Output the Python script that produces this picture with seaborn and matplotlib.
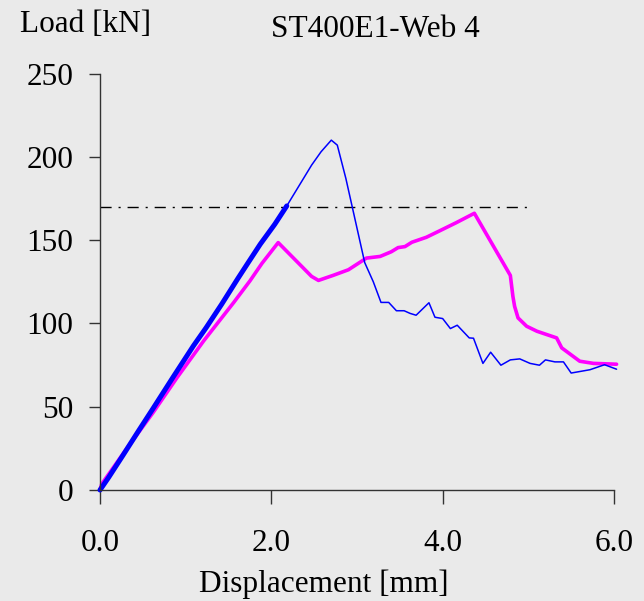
import numpy as np
import pandas as pd
import matplotlib
matplotlib.use("Agg")
import matplotlib.pyplot as plt
import seaborn as sns

# --- dati ---
# tratto iniziale (blu spesso)
blue_init_x = [0.00, 0.10, 0.27, 0.45, 0.62, 0.85, 1.09, 1.24, 1.42, 1.61, 1.73, 1.87, 2.04, 2.18]
blue_init_y = [0.0, 7.5, 21.0, 35.5, 49.0, 67.5, 86.5, 97.5, 111.5, 127.0, 136.5, 147.5, 159.5, 170.5]

# prosecuzione (blu sottile)
blue_x = [2.18, 2.47, 2.58, 2.70, 2.77, 2.87, 3.09, 3.19, 3.28, 3.37, 3.46, 3.55, 3.62, 3.69,
          3.84, 3.91, 4.00, 4.09, 4.17, 4.31, 4.36, 4.47, 4.56, 4.68, 4.79, 4.90, 5.02,
          5.13, 5.20, 5.31, 5.41, 5.50, 5.72, 5.89, 6.03]
blue_y = [170.5, 195.0, 203.0, 210.0, 207.0, 187.0, 136.5, 125.0, 112.6, 112.6, 107.6, 107.6,
          106.0, 104.9, 112.4, 103.7, 102.9, 96.9, 98.9, 91.3, 91.1, 76.0, 82.7, 74.9, 78.1,
          78.7, 76.0, 74.9, 78.1, 76.9, 76.9, 70.2, 72.2, 75.2, 72.5]

# seconda prova (magenta)
mag_x = [0.00, 0.02, 0.30, 0.62, 0.90, 1.21, 1.56, 1.75, 1.89, 2.08, 2.47, 2.55, 2.72, 2.90,
         3.11, 3.27, 3.40, 3.48, 3.56, 3.64, 3.81, 3.97, 4.16, 4.37, 4.79, 4.82, 4.84, 4.88,
         4.98, 5.10, 5.33, 5.39, 5.60, 5.76, 6.03]
mag_y = [0.0, 3.6, 24.0, 46.5, 67.5, 89.5, 112.5, 125.5, 136.0, 148.5, 128.2, 125.8, 128.8,
         132.2, 139.2, 140.2, 143.0, 145.5, 146.1, 148.7, 151.7, 155.7, 160.5, 166.1, 128.8,
         116.2, 110.2, 103.3, 98.3, 95.3, 91.3, 85.3, 77.3, 76.0, 75.5]

# carico di riferimento (tratto-punto)
ref_x = [0.0, 5.0]
ref_y = [170.0, 170.0]

x_ticks = [0, 2, 4, 6]
x_ticklabels = ["0.0", "2.0", "4.0", "6.0"]
y_ticks = [0, 50, 100, 150, 200, 250]

#%% Plot
sns.set_theme(style="white")
plt.rcParams['font.family'] = ['Liberation Serif', 'DejaVu Serif']
plt.rcParams['text.color'] = "black"
plt.rcParams['xtick.color'] = "black"
plt.rcParams['ytick.color'] = "black"
bg = "#EAEAEA"

fig = plt.figure(figsize=(6.44, 6.01), dpi=100, facecolor=bg)
ax = fig.add_axes([0.1553, 0.1847, 0.7981, 0.693])
ax.set_facecolor(bg)

sns.lineplot(x=ref_x, y=ref_y, ax=ax, color="black", lw=1.0, sort=False, estimator=None,
             linestyle=(0, (8, 5, 1.5, 5)))
sns.lineplot(x=mag_x, y=mag_y, ax=ax, color="#FF00FF", lw=2.6, sort=False, estimator=None)
sns.lineplot(x=blue_x, y=blue_y, ax=ax, color="#0000FF", lw=1.1, sort=False, estimator=None)
sns.lineplot(x=blue_init_x, y=blue_init_y, ax=ax, color="#0000FF", lw=3.6, sort=False, estimator=None)
for ln in ax.get_lines():
    ln.set_clip_on(False)

ax.set_xlim(0, 6)
ax.set_ylim(0, 250)
ax.set_xticks(x_ticks)
ax.set_xticklabels(x_ticklabels)
ax.set_yticks(y_ticks)
ax.set_xlabel("")
ax.set_ylabel("")

for s in ["top", "right"]:
    ax.spines[s].set_visible(False)
for s in ["left", "bottom"]:
    ax.spines[s].set_color("#333333")
    ax.spines[s].set_linewidth(1.0)

ax.tick_params(axis="x", direction="out", length=10, width=1.0, color="#333333",
               labelsize=22.5, labelcolor="black", pad=18, bottom=True)
ax.tick_params(axis="y", direction="out", length=8, width=1.0, color="#333333",
               labelsize=22.5, labelcolor="black", pad=11, left=True)

fig.text(20 / 644, 1 - 32 / 601, "Load [kN]", fontsize=22.5, ha="left", va="baseline", color="black")
fig.text(375 / 644, 1 - 37 / 601, "ST400E1-Web 4", fontsize=22.5, ha="center", va="baseline", color="black")
fig.text(323.5 / 644, 1 - 592 / 601, "Displacement [mm]", fontsize=22.5, ha="center", va="baseline", color="black")

fig.savefig("out.png", dpi=100, facecolor=bg)
